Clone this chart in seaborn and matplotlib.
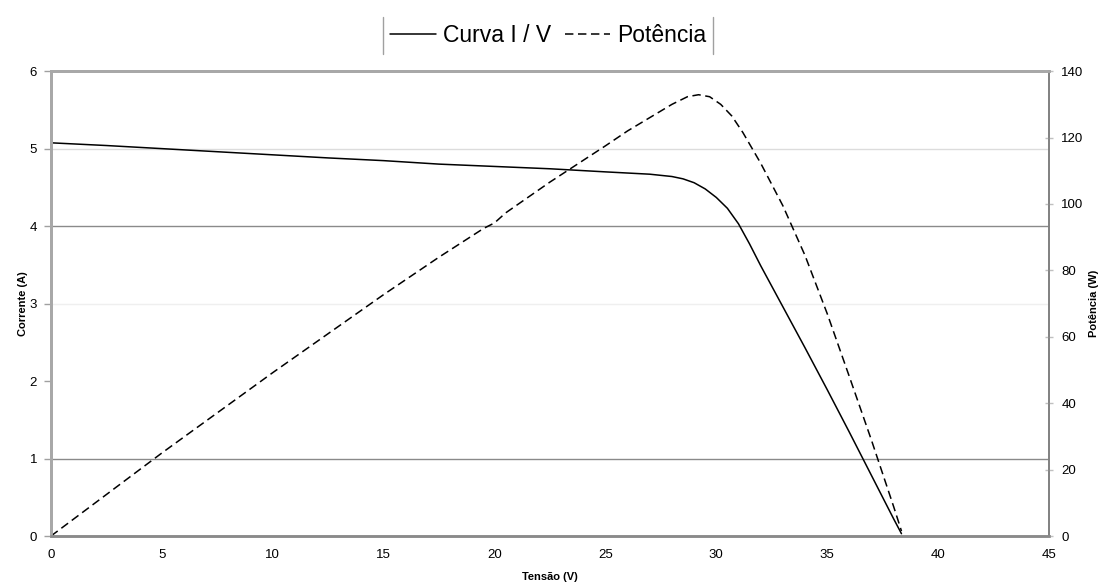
import matplotlib
matplotlib.use("Agg")
import matplotlib.pyplot as plt
import seaborn as sns
import pandas as pd
from matplotlib.lines import Line2D

# ---- data ----
iv_voltage = [0, 2.5, 5, 7.5, 10, 12.5, 15, 17.5, 20, 22.5, 25, 27, 28, 28.5, 29,
              29.5, 30, 30.5, 31, 31.5, 32, 33, 34, 35, 36, 37, 38, 38.35]
iv_current = [5.075, 5.04, 5.00, 4.96, 4.92, 4.88, 4.845, 4.80, 4.77, 4.74, 4.70,
              4.67, 4.64, 4.61, 4.56, 4.48, 4.37, 4.23, 4.03, 3.77, 3.49, 2.96,
              2.43, 1.89, 1.34, 0.78, 0.22, 0.03]

pw_voltage = [0, 5, 10, 15, 17.5, 19.5, 20, 20.5, 22.5, 25, 26, 27, 28, 28.7, 29.2,
              29.7, 30.2, 30.7, 31.2, 32, 33, 34, 35, 36, 37, 38, 38.35]
pw_power = [0, 25.0, 49.2, 72.7, 84.0, 92.6, 94.3, 97.3, 106.6, 117.5, 122.0, 126.0,
            130.0, 132.3, 132.9, 132.3, 130.0, 126.5, 121.5, 112.3, 99.5, 84.5, 67.0,
            48.0, 28.8, 8.8, 1.5]

x_ticks = [0, 5, 10, 15, 20, 25, 30, 35, 40, 45]
y_ticks = [0, 1, 2, 3, 4, 5, 6]
y2_ticks = [0, 20, 40, 60, 80, 100, 120, 140]
grid_values = [1, 3, 4, 5]
grid_colors = ["#8a8a8a", "#efefef", "#8a8a8a", "#dcdcdc"]

labels = ["Curva I / V", "Potência"]

df_iv = pd.DataFrame({"V": iv_voltage, "I": iv_current})
df_pw = pd.DataFrame({"V": pw_voltage, "P": pw_power})

sns.set_style("white")
plt.rcParams["font.family"] = ["Liberation Sans", "DejaVu Sans"]
plt.rcParams["text.color"] = "black"
plt.rcParams["axes.labelcolor"] = "black"
plt.rcParams["xtick.labelcolor"] = "black"
plt.rcParams["ytick.labelcolor"] = "black"

fig = plt.figure(figsize=(11.03, 5.88), dpi=100)
ax = fig.add_axes([0.0462, 0.0884, 0.9048, 0.7906])
ax2 = ax.twinx()

for v, c in zip(grid_values, grid_colors):
    ax.axhline(v, color=c, lw=1.0, zorder=0)

dash = (0, (5.5, 3))
sns.lineplot(data=df_iv, x="V", y="I", ax=ax, color="black", lw=1.1, sort=False,
             label=labels[0], legend=False)
sns.lineplot(data=df_pw, x="V", y="P", ax=ax2, color="black", lw=1.1, sort=False,
             linestyle=dash, label=labels[1], legend=False)

ax.set_xlim(0, 45)
ax.set_ylim(0, 6)
ax2.set_ylim(0, 140)
ax.set_xticks(x_ticks)
ax.set_yticks(y_ticks)
ax2.set_yticks(y2_ticks)

ax.set_xlabel("Tensão (V)", fontsize=8, fontweight="bold", labelpad=8)
ax.set_ylabel("Corrente (A)", fontsize=8, fontweight="bold", labelpad=1)
ax2.set_ylabel("Potência (W)", fontsize=8, fontweight="bold", labelpad=4)

ax.tick_params(axis="x", labelsize=9.5, length=4, width=1, color="#a0a0a0",
               direction="out", pad=5, labelcolor="black")
ax.tick_params(axis="y", labelsize=9.5, length=5, width=1, color="#a0a0a0",
               direction="out", pad=5, labelcolor="black")
ax2.tick_params(axis="y", labelsize=9.5, length=6, width=1, color="#c0c0c0",
                direction="inout", pad=6, labelcolor="black")

for a in (ax, ax2):
    for s in a.spines.values():
        s.set_visible(True)
    a.spines["left"].set_color("#a8a8a8")
    a.spines["left"].set_linewidth(2)
    a.spines["top"].set_color("#a8a8a8")
    a.spines["top"].set_linewidth(2)
    a.spines["bottom"].set_color("#8a8a8a")
    a.spines["bottom"].set_linewidth(1.8)
    a.spines["right"].set_color("#808080")
    a.spines["right"].set_linewidth(1.2)

handles = [Line2D([], [], color="black", lw=1.1),
           Line2D([], [], color="black", lw=1.1, linestyle=dash)]
leg = fig.legend(handles, labels, loc="upper center", bbox_to_anchor=(0.497, 0.99),
                 ncol=2, fontsize=16.5, frameon=False, handlelength=2.0,
                 handletextpad=0.3, columnspacing=0.6, borderpad=0.3,
                 labelcolor="black")

fig.canvas.draw()
bb = leg.get_window_extent().transformed(fig.transFigure.inverted())
for xe in (bb.x0, bb.x1):
    fig.add_artist(Line2D([xe, xe], [bb.y0, bb.y1], transform=fig.transFigure,
                          color="#a0a0a0", lw=1.0))

fig.savefig("out.png", dpi=100)
